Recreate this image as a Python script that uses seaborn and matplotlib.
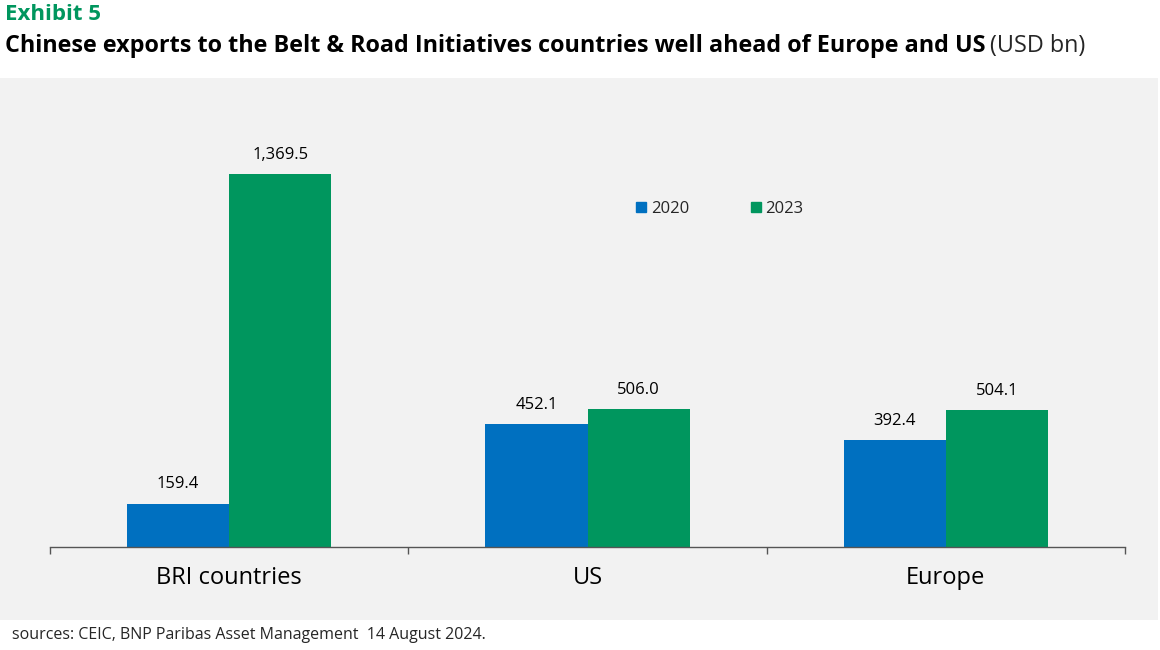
import matplotlib
matplotlib.use("Agg")
import matplotlib.pyplot as plt
import seaborn as sns
import pandas as pd
from matplotlib.patches import Rectangle
from matplotlib.lines import Line2D

categories = ["BRI countries", "US", "Europe"]
years = ["2020", "2023"]
values_2020 = [159.4, 452.1, 392.4]
values_2023 = [1369.5, 506.0, 504.1]

df = pd.DataFrame({
    "cat": categories * 2,
    "year": [years[0]] * 3 + [years[1]] * 3,
    "val": values_2020 + values_2023,
})

sns.set_theme(style="white")
plt.rcParams['font.family'] = ['Open Sans', 'DejaVu Sans']

fig = plt.figure(figsize=(11.6, 6.5), dpi=100)
fig.patch.set_facecolor("white")
fig.patches.append(Rectangle((0, 1 - 620/650), 1158/1160, (620-78)/650,
                             transform=fig.transFigure, facecolor="#f2f2f2",
                             edgecolor="none", zorder=-10))
ax = fig.add_axes([50/1160, 1 - 547/650, 1075/1160, 457/650])
ax.set_zorder(1)
ax.set_facecolor("none")
blue, green = "#0070c0", "#00965e"
sns.barplot(data=df, x="cat", y="val", hue="year", palette=[blue, green],
            width=0.57, ax=ax, saturation=1, legend=False, linewidth=0)
for c in ax.containers:
    ax.bar_label(c, labels=[f"{v:,.1f}" for v in c.datavalues], padding=8,
                 fontsize=12, color="black", fontweight="medium")
ax.set_xlim(-0.5, 2.5)
ax.set_ylim(0, 1678)
ax.set_yticks([])
ax.set_xlabel("")
ax.set_ylabel("")
for s in ["top", "right", "left"]:
    ax.spines[s].set_visible(False)
ax.spines["bottom"].set_color("#555555")
ax.spines["bottom"].set_linewidth(1)
ax.set_xticks([0, 1, 2])
ax.set_xticklabels(categories, fontsize=17, color="black")
ax.tick_params(axis="x", which="major", length=0, pad=14)
ax.set_xticks([-0.5, 0.5, 1.5, 2.5], minor=True)
ax.tick_params(axis="x", which="minor", length=5, color="#555555", bottom=True)

handles = [Line2D([], [], marker="s", ls="", color=blue, markersize=7),
           Line2D([], [], marker="s", ls="", color=green, markersize=7)]
ax.legend(handles, years, loc="center", bbox_to_anchor=(718/1160, 1 - 209/650),
          bbox_transform=fig.transFigure, ncol=2, frameon=False, fontsize=12,
          handletextpad=0.1, columnspacing=3.5, handlelength=1)

fig.text(5/1160, 1 - 15/650, "Exhibit 5", color=green, fontsize=16, fontweight="bold", va="center")
t = fig.text(5/1160, 1 - 46/650, "Chinese exports to the Belt & Road Initiatives countries well ahead of Europe and US",
             color="black", fontsize=16.8, fontweight="bold", va="center")
fig.canvas.draw()
bb = t.get_window_extent()
fig.text(bb.x1/1160 + 0.004, 1 - 46/650, "(USD bn)", fontsize=16.8, va="center")
fig.text(12/1160, 1 - 635/650, "sources: CEIC, BNP Paribas Asset Management  14 August 2024.",
         fontsize=11.5, va="center")
fig.savefig("out.png", dpi=100)
